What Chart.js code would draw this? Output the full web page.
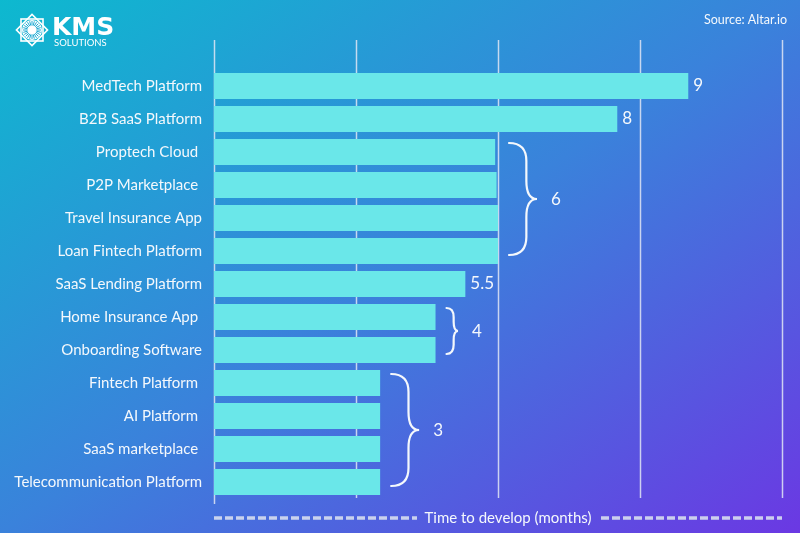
<!DOCTYPE html>
<html>
<head>
<meta charset="utf-8">
<script src="https://cdn.jsdelivr.net/npm/chart.js@4.4.1/dist/chart.umd.min.js"></script>
<style>
  html, body { margin: 0; padding: 0; }
  body {
    width: 800px; height: 533px; overflow: hidden;
    background: linear-gradient(to bottom right, #0db9cf 0%, #3a82db 50%, #6b38e3 100%);
  }
  canvas { display: block; }
</style>
</head>
<body>
<canvas id="chart" width="800" height="533"></canvas>
<script>
// app names, top to bottom
const categories = [
  'MedTech Platform', 'B2B SaaS Platform', 'Proptech Cloud ', 'P2P Marketplace ',
  'Travel Insurance App', 'Loan Fintech Platform', 'SaaS Lending Platform',
  'Home Insurance App ', 'Onboarding Software', 'Fintech Platform ', 'AI Platform ',
  'SaaS marketplace ', 'Telecommunication Platform'
];
// time to develop (months), as written on the chart
const months = [9, 8, 6, 6, 6, 6, 5.5, 4, 4, 3, 3, 3, 3];
// bar lengths as drawn, measured in gridline steps
const barLength = [3.34, 2.84, 1.98, 1.99, 2.0, 2.0, 1.77, 1.56, 1.56, 1.17, 1.17, 1.17, 1.17];
// rows sharing one bracket: [first, last]
const braceGroups = [[2, 5], [7, 8], [9, 12]];
const gridSteps = [0, 1, 2, 3, 4];

const FONT = 'Lato, "Noto Sans", sans-serif';
const WHITE = '#f4f8fc';

const decorPlugin = {
  id: 'decor',
  beforeDatasetsDraw(chart) {
    const { ctx } = chart;
    const x = chart.scales.x;
    ctx.save();
    ctx.strokeStyle = 'rgba(225,230,245,0.85)';
    ctx.lineWidth = 1.5;
    gridSteps.forEach(v => {
      const px = Math.round(x.getPixelForValue(v)) + 0.5;
      ctx.beginPath();
      ctx.moveTo(px, 40);
      ctx.lineTo(px, v === 0 ? 504 : 498);
      ctx.stroke();
    });
    ctx.restore();
  },
  afterDatasetsDraw(chart) {
    const { ctx } = chart;
    const bars = chart.getDatasetMeta(0).data;
    const inGroup = i => braceGroups.some(g => i >= g[0] && i <= g[1]);
    ctx.save();
    ctx.fillStyle = WHITE;
    ctx.textBaseline = 'middle';
    ctx.font = '17px ' + FONT;

    // single value labels
    bars.forEach((b, i) => {
      if (inGroup(i)) return;
      ctx.textAlign = 'left';
      ctx.fillText(String(months[i]), b.x + 5, b.y);
    });

    // curly brackets with group value
    ctx.strokeStyle = WHITE;
    ctx.lineWidth = 2.2;
    ctx.lineCap = 'round';
    braceGroups.forEach(g => {
      const first = bars[g[0]], last = bars[g[1]];
      let maxX = 0;
      for (let i = g[0]; i <= g[1]; i++) maxX = Math.max(maxX, bars[i].x);
      const top = first.y - 9, bottom = last.y + 4;
      const h = bottom - top, mid = (top + bottom) / 2;
      const w = h * 0.25;
      const x0 = maxX + 11, xm = x0 + w * 0.62, xt = x0 + w;
      const r = Math.min(h * 0.2, 18);
      ctx.beginPath();
      ctx.moveTo(x0, top);
      ctx.quadraticCurveTo(xm, top, xm, top + r);
      ctx.lineTo(xm, mid - r);
      ctx.quadraticCurveTo(xm, mid, xt, mid);
      ctx.quadraticCurveTo(xm, mid, xm, mid + r);
      ctx.lineTo(xm, bottom - r);
      ctx.quadraticCurveTo(xm, bottom, x0, bottom);
      ctx.stroke();
      ctx.textAlign = 'center';
      ctx.fillText(String(months[g[0]]), xt + 19, mid + 1);
    });

    // axis title with dashed rules
    ctx.setLineDash([8, 3]);
    ctx.lineWidth = 3.5;
    ctx.lineCap = 'butt';
    ctx.strokeStyle = 'rgba(215,222,240,0.9)';
    ctx.beginPath();
    ctx.moveTo(214, 518); ctx.lineTo(417, 518);
    ctx.moveTo(601, 518); ctx.lineTo(782, 518);
    ctx.stroke();
    ctx.setLineDash([]);
    ctx.font = '15px ' + FONT;
    ctx.textAlign = 'center';
    ctx.fillText('Time to develop (months)', 508, 518);

    // source
    ctx.font = '12.5px ' + FONT;
    ctx.textAlign = 'right';
    ctx.fillText('Source: Altar.io', 787, 20);

    // logo
    const cx = 32, cy = 30;
    ctx.strokeStyle = '#ffffff';
    ctx.fillStyle = '#ffffff';
    ctx.lineWidth = 1.6;
    for (let k = 0; k < 2; k++) {
      ctx.save();
      ctx.translate(cx, cy);
      ctx.rotate(k * Math.PI / 4);
      ctx.strokeRect(-11, -11, 22, 22);
      ctx.restore();
    }
    ctx.beginPath();
    ctx.arc(cx, cy, 10, 0, Math.PI * 2);
    ctx.fill();
    ctx.strokeStyle = '#1eaad3';
    ctx.lineWidth = 1;
    for (let a = 0; a < 24; a++) {
      const t = a * Math.PI / 12;
      ctx.beginPath();
      ctx.moveTo(cx + Math.cos(t) * 4.5, cy + Math.sin(t) * 4.5);
      ctx.lineTo(cx + Math.cos(t) * 9, cy + Math.sin(t) * 9);
      ctx.stroke();
    }
    ctx.fillStyle = '#ffffff';
    ctx.textAlign = 'left';
    ctx.textBaseline = 'alphabetic';
    ctx.font = '600 25px "DejaVu Sans", sans-serif';
    ctx.fillText('KMS', 52, 35);
    ctx.font = '9.5px ' + FONT;
    ctx.fillText('SOLUTIONS', 54, 46);
    ctx.restore();
  }
};

new Chart(document.getElementById('chart'), {
  type: 'bar',
  data: {
    labels: categories,
    datasets: [{
      data: barLength,
      backgroundColor: '#6ae7e9',
      borderWidth: 0,
      barPercentage: 0.79,
      categoryPercentage: 1.0
    }]
  },
  options: {
    indexAxis: 'y',
    responsive: false,
    animation: false,
    layout: { padding: { top: 69.5, bottom: 34.5, right: 18, left: 0 } },
    plugins: {
      legend: { display: false },
      tooltip: { enabled: false }
    },
    scales: {
      x: { display: false, min: 0, max: 4 },
      y: {
        afterFit(scale) { scale.width = 214; },
        grid: { display: false, drawTicks: false },
        border: { display: false },
        ticks: {
          color: WHITE,
          padding: 12,
          font: { family: FONT, size: 15 }
        }
      }
    }
  },
  plugins: [decorPlugin]
});
</script>
</body>
</html>
